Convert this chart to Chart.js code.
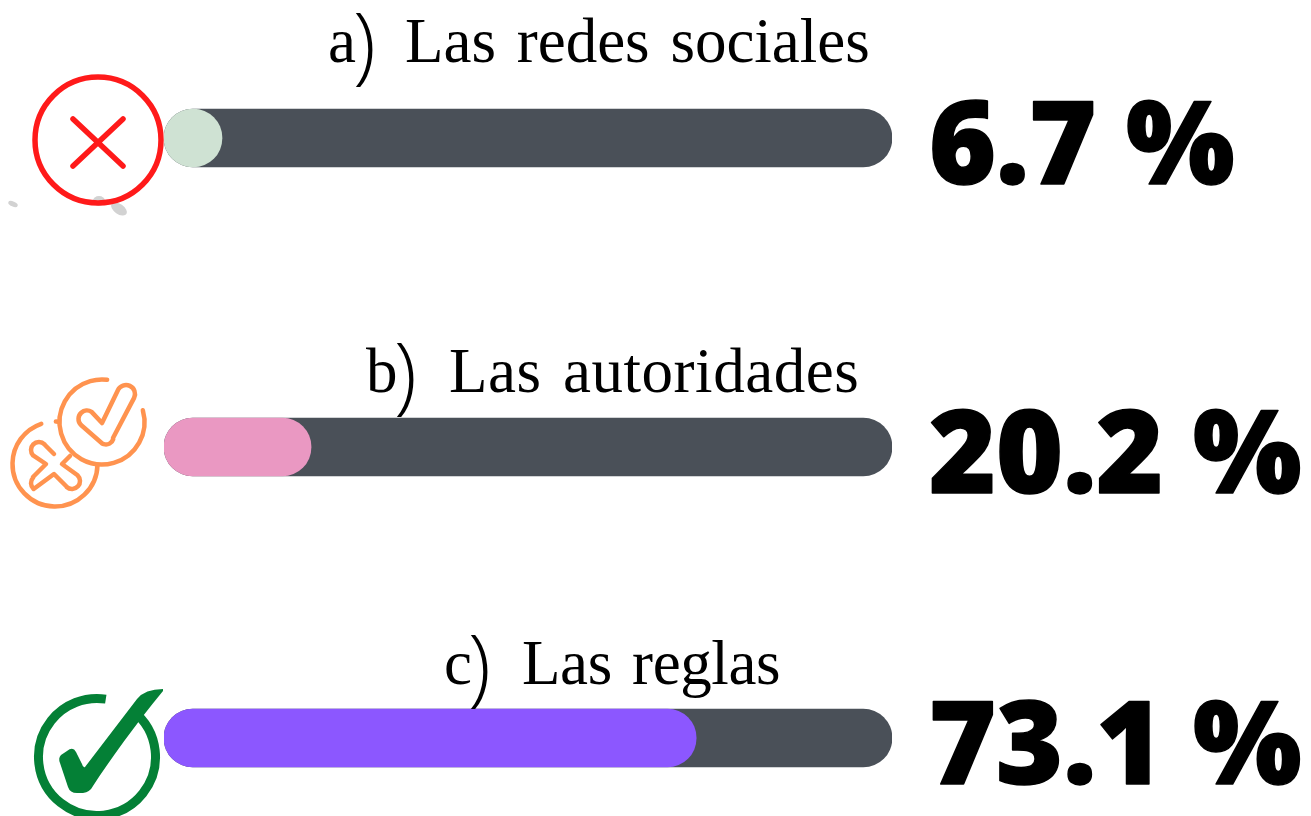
<!DOCTYPE html>
<html><head><meta charset="utf-8">
<style>html,body{margin:0;padding:0;background:#fff;overflow:hidden}#w{position:absolute;left:0;top:0;width:1311px;height:816px}</style>
<script src="https://cdn.jsdelivr.net/npm/chart.js@4"></script>
</head><body><div id="w"><canvas id="c"></canvas></div>
<script>
const categories = ['a) Las redes sociales', 'b) Las autoridades', 'c) Las reglas'];
const percentValues = [6.7, 20.2, 73.1];
const trackValues = [100, 100, 100];
const rowSlots = [0, 1.03, 2];
const valueLabels = ['6.7 %', '20.2 %', '73.1 %'];
const barColors = ['#cfe2d3', '#ea98c2', '#8c57ff'];

const LETTER_X = [328, 366, 444];
const PAREN_X = [353, 394, 468];
const TITLE_X = [405, 449, 522];
const TITLE_DY = [-76, -55, -54];
const TITLE_SPACING = [0, 0.55, -0.4];
const ROW_PX = 300;
const toPoints = v => v.map((x, i) => ({x, y: rowSlots[i]}));

function circle(ctx, x, y, r) { ctx.beginPath(); ctx.arc(x, y, r, 0, Math.PI * 2); ctx.stroke(); }

function iconCross(ctx, cy) {
  const cx = 98, y = cy + 3;
  ctx.fillStyle = '#d2d2d2';
  [[13, 204, 5, 2.5, .4], [99, 201, 6, 5, 0], [119, 209, 9, 5, .6]].forEach(([x, yy, a, b, r]) => {
    ctx.beginPath(); ctx.ellipse(x, cy - 138 + yy, a, b, r, 0, Math.PI * 2); ctx.fill();
  });
  ctx.strokeStyle = '#ff1a1a'; ctx.lineWidth = 5.5; ctx.lineCap = 'round';
  circle(ctx, cx, y - 1, 63);
  ctx.lineWidth = 5.5;
  ctx.beginPath();
  ctx.moveTo(cx - 25, y - 22); ctx.lineTo(cx + 25, y + 25);
  ctx.moveTo(cx + 25, y - 22); ctx.lineTo(cx - 25, y + 25);
  ctx.stroke();
}

function iconBoth(ctx, cy) {
  const o = cy - 447;
  ctx.save(); ctx.translate(0, o);
  ctx.strokeStyle = '#ff934f'; ctx.lineWidth = 4.5; ctx.lineCap = 'round'; ctx.lineJoin = 'round';
  ctx.beginPath(); ctx.arc(55, 464, 42.5, -1.55, 2 * Math.PI - 1.9, false); ctx.stroke();
  ctx.fillStyle = '#fff';
  ctx.beginPath(); ctx.arc(102, 422, 42.5, 0, Math.PI * 2); ctx.fill();
  ctx.beginPath(); ctx.arc(102, 422, 42.5, -0.28, -1.45, false); ctx.stroke();
  // check mark
  ctx.beginPath();
  ctx.moveTo(102, 423); ctx.lineTo(118, 390);
  ctx.arc(126, 394, 9, -2.7, 0.45, false);
  ctx.lineTo(113, 438);
  ctx.arc(106, 437, 7.5, 0.3, 2.1, false);
  ctx.lineTo(81, 425);
  ctx.arc(87, 419, 8.5, 2.4, -1.0, false);
  ctx.closePath();
  ctx.stroke();
  // cross mark
  ctx.beginPath();
  ctx.moveTo(54, 454); ctx.lineTo(45, 445);
  ctx.arc(39, 450, 8, -0.8, 2.4, true);
  ctx.lineTo(46, 464); ctx.lineTo(33, 477);
  ctx.arc(39, 483, 8, 3.9, 2.3, true);
  ctx.lineTo(54, 474); ctx.lineTo(67, 487);
  ctx.arc(72, 481, 8, 2.3, -0.8, true);
  ctx.lineTo(62, 464); ctx.lineTo(70, 456);
  ctx.stroke();
  ctx.restore();
}

function iconCheck(ctx, cy) {
  const o = cy - 738;
  ctx.save(); ctx.translate(0, o);
  ctx.strokeStyle = '#048036'; ctx.lineWidth = 9; ctx.lineCap = 'butt';
  ctx.beginPath(); ctx.arc(97, 757, 58.5, -0.9, -1.25 + 2 * Math.PI - 0.05 - 0.12, false); ctx.stroke();
  ctx.fillStyle = '#048036';
  ctx.beginPath();
  ctx.moveTo(163, 689);
  ctx.quadraticCurveTo(145, 689, 137, 699);
  ctx.lineTo(85, 767);
  ctx.quadraticCurveTo(83, 768, 82, 764);
  ctx.lineTo(76, 752);
  ctx.quadraticCurveTo(73, 746, 67, 751);
  ctx.lineTo(61, 755);
  ctx.quadraticCurveTo(58, 758, 60, 763);
  ctx.lineTo(68, 787);
  ctx.quadraticCurveTo(70, 793, 77, 793);
  ctx.lineTo(83, 793);
  ctx.quadraticCurveTo(90, 792, 93, 786);
  ctx.bezierCurveTo(110, 760, 135, 725, 163, 691);
  ctx.closePath(); ctx.fill();
  ctx.restore();
}

const overlay = {
  id: 'overlay',
  afterDatasetsDraw(chart) {
    const {ctx, scales: {y}} = chart;
    ctx.save();
    ctx.textBaseline = 'alphabetic';
    ctx.textAlign = 'left';
    const icons = [iconCross, iconBoth, iconCheck];
    categories.forEach((label, i) => {
      const cy = y.getPixelForValue(rowSlots[i]);
      icons[i](ctx, cy);
      const base = cy + TITLE_DY[i];
      const [letter, rest] = [label.slice(0, 1), label.slice(3)];
      ctx.fillStyle = '#000';
      ctx.font = '400 63px "Liberation Serif"';
      ctx.letterSpacing = '0px';
      ctx.fillText(letter, LETTER_X[i], base);
      ctx.letterSpacing = TITLE_SPACING[i] + 'px';
      ctx.wordSpacing = '5px';
      ctx.fillText(rest, TITLE_X[i], base);
      ctx.wordSpacing = '0px';
      ctx.letterSpacing = '0px';
      ctx.font = '300 84px "Open Sans"';
      ctx.fillText(')', PAREN_X[i], base + 12);
      ctx.font = '800 114.5px "Open Sans"';
      ctx.strokeStyle = '#000';
      ctx.lineWidth = 1.5;
      ctx.lineJoin = 'round';
      ctx.fillText(valueLabels[i], 929, cy + 46);
      ctx.strokeText(valueLabels[i], 929, cy + 46);
    });
    ctx.restore();
  }
};

new Chart(document.getElementById('c'), {
  type: 'bar',
  data: {
    labels: categories,
    datasets: [
      {label: 'Porcentaje', data: toPoints(percentValues), backgroundColor: barColors, order: 0, minBarLength: 58},
      {label: 'Total', data: toPoints(trackValues), backgroundColor: '#4a5058', order: 1}
    ]
  },
  options: {
    indexAxis: 'y',
    responsive: true,
    maintainAspectRatio: false,
    animation: false,
    layout: {padding: {left: 164, right: 419, top: 0, bottom: 0}},
    datasets: {bar: {grouped: false, barThickness: 58, borderRadius: 29, borderSkipped: false, borderWidth: 0}},
    plugins: {legend: {display: false}, tooltip: {enabled: false}},
    scales: {
      x: {type: 'linear', min: 0, max: 100, display: false},
      y: {type: 'linear', offset: false, min: -138 / ROW_PX, max: (816 - 138) / ROW_PX, reverse: true, display: false}
    }
  },
  plugins: [overlay]
});
</script></body></html>
